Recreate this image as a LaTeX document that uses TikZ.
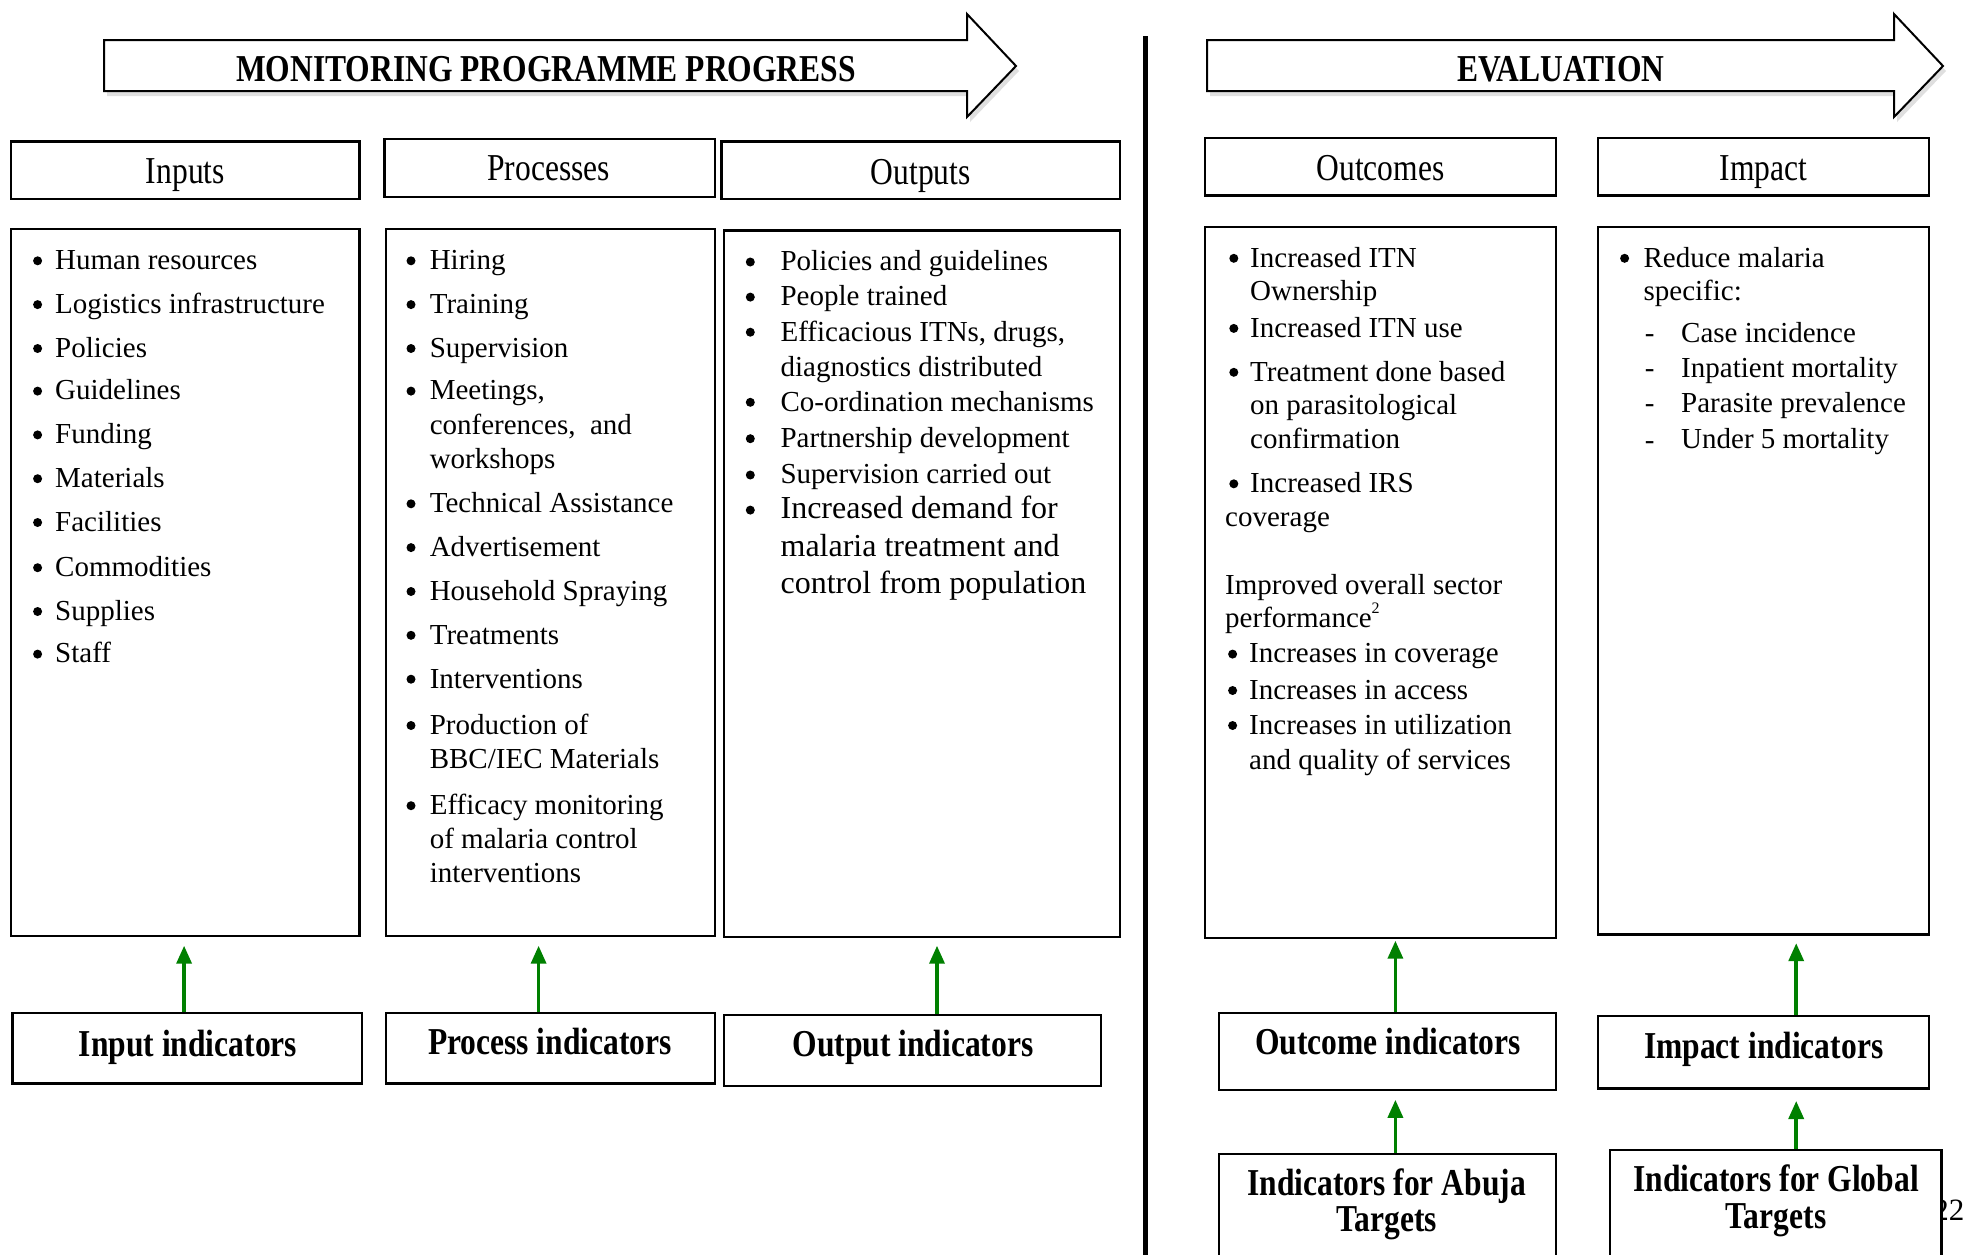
\documentclass[tikz,border=0pt]{standalone}
\usepackage{fontspec}
\setmainfont{Liberation Serif}
\newfontfamily\condfont[FakeStretch=0.83]{Liberation Serif}
\usetikzlibrary{arrows.meta,fit,shadows}

\tikzset{
 frame/.style={draw=black, line width=2.2pt, fill=white, inner sep=0pt},
 headtxt/.style={font=\condfont\fontsize{38}{40}\selectfont, inner sep=0pt, anchor=base},
 boldtxt/.style={font=\condfont\bfseries\fontsize{38}{40}\selectfont, inner sep=0pt, anchor=base},
 txt/.style={font=\fontsize{29}{35}\selectfont, inner sep=0pt, anchor=mid west, yshift=-8pt},
 bigtxt/.style={font=\fontsize{32}{36}\selectfont, inner sep=0pt, anchor=mid west, yshift=-8pt},
 bul/.style={circle, fill=black, draw=none, inner sep=0pt, minimum size=9pt, anchor=center, yshift=-1.5pt},
 dashst/.style={font=\fontsize{29}{35}\selectfont, inner sep=0pt, anchor=center, yshift=-7pt},
 garrow/.style={draw=green!50!black, line width=3.5pt, -{Triangle[length=18pt,width=15pt]}},
 bigarrow/.style={draw=black, line width=2pt, fill=white, line join=miter,
   drop shadow={shadow xshift=3pt, shadow yshift=-5pt, opacity=0.25}},
}
\newcommand\fbx[5]{\node[frame, fit={(#2,#3) (#4,#5)}] (#1) {};}
\newcommand\itm[5]{\node[bul] (#1b) at (#2,#4) {}; \node[txt] (#1) at (#3,#4) {#5};}
\newcommand\dsh[5]{\node[dashst] (#1b) at (#2,#4) {-}; \node[txt] (#1) at (#3,#4) {#5};}
\newcommand\bitm[5]{\node[bul] (#1b) at (#2,#4) {}; \node[bigtxt] (#1) at (#3,#4) {#5};}
\newcommand\cont[4]{\node[txt] (#1) at (#2,#3) {#4};}
\newcommand\bcont[4]{\node[bigtxt] (#1) at (#2,#3) {#4};}

\begin{document}
\begin{tikzpicture}[x=1pt,y=-1pt]
\useasboundingbox (0,0) rectangle (1964,1254);

% big arrows
\draw[bigarrow] (104,40) -- (967,40) -- (967,14) -- (1016,66) -- (967,117) -- (967,91) -- (104,91) -- cycle;
\node[boldtxt] (montitle) at (546,81.5) {MONITORING PROGRAMME PROGRESS};
\draw[bigarrow] (1207,40) -- (1894,40) -- (1894,14) -- (1943,66) -- (1894,117) -- (1894,91) -- (1207,91) -- cycle;
\node[boldtxt] (evtitle) at (1560.7,81.5) {EVALUATION};

% divider
\draw[line width=5pt] (1145.5,36) -- (1145.5,1260);

% header boxes
\fbx{inhead}{11}{141.5}{359.5}{199}
\fbx{prhead}{384.5}{139}{715}{196.6}
\fbx{ouhead}{721.5}{141.5}{1120}{199}
\fbx{ochead}{1205}{138}{1556}{195.4}
\fbx{imhead}{1598}{138}{1929}{195.4}
\node[headtxt] (inheadt) at (185.4,183) {Inputs};
\node[headtxt] (prheadt) at (548.6,180.3) {Processes};
\node[headtxt] (ouheadt) at (920.7,184.1) {Outputs};
\node[headtxt] (ocheadt) at (1380.4,180.3) {Outcomes};
\node[headtxt] (imheadt) at (1763.7,180.3) {Impact};

% content boxes
\fbx{inbox}{11.3}{229.2}{359.5}{935.7}
\fbx{prbox}{385.8}{229.2}{715.2}{935.7}
\fbx{oubox}{724}{230.5}{1119.8}{937}
\fbx{ocbox}{1205}{226.7}{1555.7}{938.2}
\fbx{imbox}{1598.3}{226.7}{1929}{934.4}

% inputs
\itm{i1}{37.6}{55}{259.3}{Human resources}
\itm{i2}{37.6}{55}{303.1}{Logistics infrastructure}
\itm{i3}{37.6}{55}{347}{Policies}
\itm{i4}{37.6}{55}{389.6}{Guidelines}
\itm{i5}{37.6}{55}{433.4}{Funding}
\itm{i6}{37.6}{55}{477.2}{Materials}
\itm{i7}{37.6}{55}{521}{Facilities}
\itm{i8}{37.6}{55}{566.2}{Commodities}
\itm{i9}{37.6}{55}{610}{Supplies}
\itm{i10}{37.6}{55}{652.6}{Staff}

% processes
\itm{p1}{411}{429.6}{259.3}{Hiring}
\itm{p2}{411}{429.6}{303.1}{Training}
\itm{p3}{411}{429.6}{347}{Supervision}
\itm{p4}{411}{429.6}{389.6}{Meetings,}
\cont{p4a}{429.6}{424.6}{conferences,~~and}
\cont{p4c}{429.6}{458.5}{workshops}
\itm{p5}{411}{429.6}{502.3}{Technical Assistance}
\itm{p6}{411}{429.6}{546.1}{Advertisement}
\itm{p7}{411}{429.6}{590}{Household Spraying}
\itm{p8}{411}{429.6}{633.8}{Treatments}
\itm{p9}{411}{429.6}{677.7}{Interventions}
\itm{p10}{411}{429.6}{724}{Production of}
\cont{p10a}{429.6}{757.8}{BBC/IEC Materials}
\itm{p11}{411}{429.6}{804.2}{Efficacy monitoring}
\cont{p11a}{429.6}{838}{of malaria control}
\cont{p11c}{429.6}{871.8}{interventions}

% outputs
\itm{o1}{750.3}{780.4}{260.5}{Policies and guidelines}
\itm{o2}{750.3}{780.4}{295.6}{People trained}
\itm{o3}{750.3}{780.4}{330.7}{Efficacious ITNs, drugs,}
\cont{o3a}{780.4}{365.8}{diagnostics distributed}
\itm{o4}{750.3}{780.4}{400.8}{Co-ordination mechanisms}
\itm{o5}{750.3}{780.4}{437.2}{Partnership development}
\itm{o6}{750.3}{780.4}{473.5}{Supervision carried out}
\bitm{o7}{750.3}{780.4}{508.6}{Increased demand for}
\bcont{o7a}{780.4}{546.1}{malaria treatment and}
\bcont{o7c}{780.4}{583}{control from population}

% outcomes
\itm{c1}{1233.8}{1250}{256.8}{Increased ITN}
\cont{c1a}{1250}{290.6}{Ownership}
\itm{c2}{1233.8}{1250}{326.9}{Increased ITN use}
\itm{c3}{1233.8}{1250}{370.8}{Treatment done based}
\cont{c3a}{1250}{404.6}{on parasitological}
\cont{c3c}{1250}{438.4}{confirmation}
\itm{c4}{1233.8}{1250}{482.3}{Increased IRS}
\cont{c4a}{1225}{516.1}{coverage}
\cont{c5}{1225}{583.7}{Improved overall sector}
\cont{c5a}{1225}{617.5}{performance\raisebox{0.5em}{\fontsize{16}{16}\selectfont 2}}
\itm{c6}{1232.6}{1249}{652.6}{Increases in coverage}
\itm{c7}{1232.6}{1249}{689}{Increases in access}
\itm{c8}{1232.6}{1249}{724}{Increases in utilization}
\cont{c8a}{1249}{759}{and quality of services}

% impact
\itm{m1}{1624.6}{1643.4}{256.8}{Reduce malaria}
\cont{m1a}{1643.4}{290.6}{specific:}
\dsh{m2}{1649.7}{1681}{332}{Case incidence}
\dsh{m3}{1649.7}{1681}{367}{Inpatient mortality}
\dsh{m4}{1649.7}{1681}{402}{Parasite prevalence}
\dsh{m5}{1649.7}{1681}{438.4}{Under 5 mortality}

% indicator boxes
\fbx{inind}{12.5}{1013}{362}{1083.5}
\fbx{prind}{385.8}{1013}{715}{1083.5}
\fbx{ouind}{724}{1014.6}{1101}{1086}
\fbx{ocind}{1218.8}{1013}{1555.7}{1089.8}
\fbx{imind}{1598}{1016}{1929}{1088.5}
\node[boldtxt] (inindt) at (188,1056) {Input indicators};
\node[boldtxt] (prindt) at (550,1054.5) {Process indicators};
\node[boldtxt] (ouindt) at (913,1056) {Output indicators};
\node[boldtxt] (ocindt) at (1388,1054.5) {Outcome indicators};
\node[boldtxt] (imindt) at (1763.7,1058.5) {Impact indicators};

% page number (partly hidden)
\node[font=\fontsize{31}{35}\selectfont, inner sep=0pt, anchor=base east] (pgnum) at (1964.5,1220) {22};

% target boxes
\fbx{abuja}{1218.8}{1153.6}{1555.7}{1275}
\fbx{global}{1609.6}{1150}{1941.5}{1275}
\node[boldtxt] (abujat1) at (1386.6,1195) {Indicators for Abuja};
\node[boldtxt] (abujat2) at (1386.6,1231.3) {Targets};
\node[boldtxt] (globalt1) at (1776,1191.2) {Indicators for Global};
\node[boldtxt] (globalt2) at (1776,1228.8) {Targets};

% green arrows
\coordinate (a1) at (184.1,945.7);
\coordinate (a2) at (538.6,945.7);
\coordinate (a3) at (937,945.7);
\coordinate (a4) at (1395.4,940.7);
\coordinate (a5) at (1796.2,943.2);
\coordinate (a6) at (1395.4,1099.8);
\coordinate (a7) at (1796.2,1101);
\draw[garrow] (inind.north -| a1) -- (a1);
\draw[garrow] (prind.north -| a2) -- (a2);
\draw[garrow] (ouind.north -| a3) -- (a3);
\draw[garrow] (ocind.north -| a4) -- (a4);
\draw[garrow] (imind.north -| a5) -- (a5);
\draw[garrow] (abuja.north -| a6) -- (a6);
\draw[garrow] (global.north -| a7) -- (a7);
\end{tikzpicture}
\end{document}
